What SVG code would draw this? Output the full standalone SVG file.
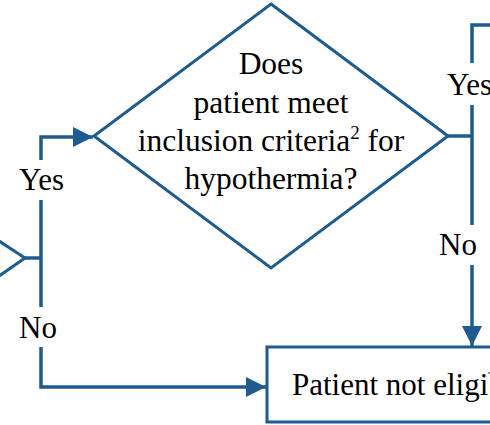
<svg xmlns="http://www.w3.org/2000/svg" width="490" height="425" viewBox="0 0 490 425">
  <style>
    .shape { fill: #ffffff; stroke: #1f5b8e; stroke-width: 3; stroke-linejoin: miter; }
    .conn { fill: none; stroke: #1f5b8e; stroke-width: 3.5; stroke-linejoin: miter; }
    text { font-family: 'Liberation Serif', 'Times New Roman', serif; font-size: 31px; fill: #000000; }
    .mid { text-anchor: middle; font-size: 31.5px; }
  </style>
  <defs>
    <marker id="arrow" viewBox="0 0 20 20" refX="20" refY="10" markerWidth="20" markerHeight="20" markerUnits="userSpaceOnUse" orient="auto">
      <path d="M0,0 L20,10 L0,20 Z" fill="#1f5b8e"/>
    </marker>
  </defs>
  <rect width="490" height="425" fill="#ffffff"/>

  <g id="node-prev-decision">
    <polyline class="shape" points="-1,241 25,258 -1,276" fill="none"/>
  </g>

  <g id="node-inclusion-decision">
    <polygon class="shape" points="271,4 448,136 271,268 94,136"/>
    <text class="mid" x="271" y="74">Does</text>
    <text class="mid" x="271" y="113">patient meet</text>
    <text class="mid" x="271" y="151">inclusion criteria<tspan font-size="19" dy="-12">2</tspan><tspan dy="12"> for</tspan></text>
    <text class="mid" x="271" y="189">hypothermia?</text>
  </g>

  <g id="node-not-eligible">
    <rect class="shape" x="267" y="347" width="240" height="75"/>
    <text x="292" y="395">Patient not eligible</text>
  </g>

  <g id="connectors">
    <line class="conn" x1="25" y1="258" x2="41" y2="258"/>
    <polyline class="conn" points="41,160 41,137 93,137" marker-end="url(#arrow)"/>
    <line class="conn" x1="41" y1="200" x2="41" y2="307"/>
    <polyline class="conn" points="41,347 41,387 266,387" marker-end="url(#arrow)"/>
    <text x="19" y="190">Yes</text>
    <text x="19" y="338">No</text>

    <line class="conn" x1="448" y1="136" x2="472" y2="136"/>
    <polyline class="conn" points="472,63 472,25 492,25"/>
    <line class="conn" x1="472" y1="105" x2="472" y2="225"/>
    <line class="conn" x1="472" y1="265" x2="472" y2="346" marker-end="url(#arrow)"/>
    <text x="447" y="95">Yes</text>
    <text x="439" y="255">No</text>
  </g>
</svg>
